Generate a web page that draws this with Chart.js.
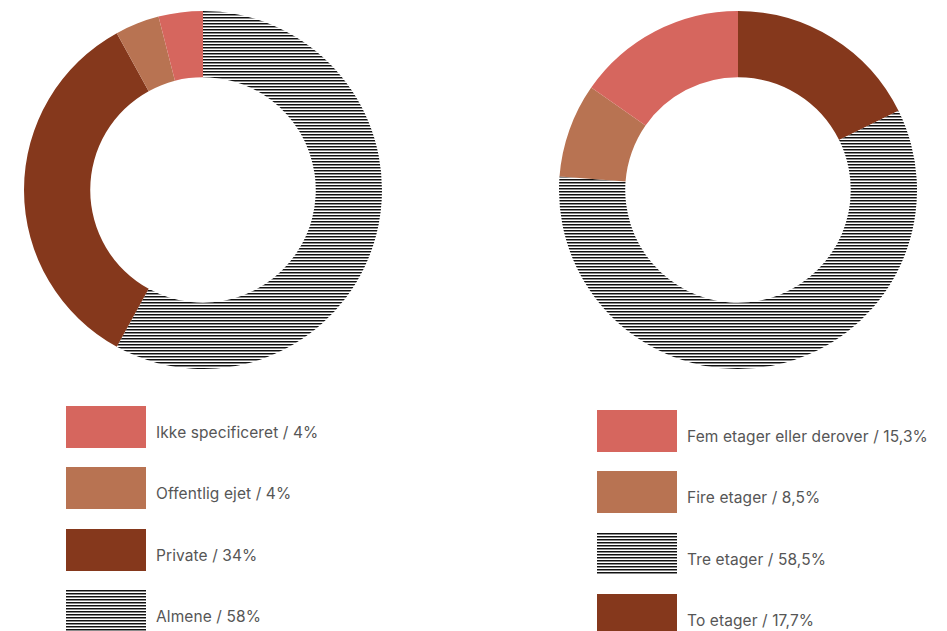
<!DOCTYPE html>
<html>
<head>
<meta charset="utf-8">
<script src="https://cdn.jsdelivr.net/npm/chart.js@4/dist/chart.umd.min.js"></script>
<style>
  html, body { margin: 0; padding: 0; background: #fff; }
  body { width: 947px; height: 631px; position: relative; overflow: hidden; font-family: Inter, "Liberation Sans", sans-serif; }
  .cv { position: absolute; top: 11px; width: 358px; height: 358px; }
  .legend { position: absolute; }
  .item { position: absolute; left: 0; height: 42px; width: 400px; }
  .sw { position: absolute; left: 0; top: 0; width: 80px; height: 42px; }
  .tx { position: absolute; left: 90px; top: 17px; font-size: 15.5px; color: #565656; white-space: nowrap; letter-spacing: 0.1px; }
</style>
</head>
<body>
<canvas id="c1" class="cv" width="358" height="358" style="left:24px"></canvas>
<canvas id="c2" class="cv" width="358" height="358" style="left:559px"></canvas>
<div id="l1" class="legend" style="left:66px; top:406px"></div>
<div id="l2" class="legend" style="left:597px; top:410px"></div>
<script>
// ---- Data ----
const ownerLabels = ["Almene", "Private", "Offentlig ejet", "Ikke specificeret"];
const ownerValues = [58, 34, 4, 4];
const floorLabels = ["To etager", "Tre etager", "Fire etager", "Fem etager eller derover"];
const floorValues = [17.7, 58.5, 8.5, 15.3];

// ---- Styles ----
const SALMON = "#d6665e", TAN = "#b87352", DARK = "#85381c";
function hatch() {
  const p = document.createElement("canvas");
  p.width = 3; p.height = 3;
  const g = p.getContext("2d");
  g.fillStyle = "#ffffff"; g.fillRect(0, 0, 3, 3);
  g.fillStyle = "#111111"; g.fillRect(0, 0, 3, 1);
  g.fillStyle = "#8a8a8a"; g.fillRect(0, 1, 3, 1);
  return g.createPattern(p, "repeat");
}
const HATCH_CSS = "repeating-linear-gradient(to bottom, #111 0px, #111 1px, #8a8a8a 1px, #8a8a8a 2px, #fff 2px, #fff 3px)";

const ownerColors = ["hatch", DARK, TAN, SALMON];
const floorColors = [DARK, "hatch", TAN, SALMON];

function fmt(v) { return String(v).replace(".", ","); }

function makeChart(id, labels, values, colors) {
  const pat = hatch();
  new Chart(document.getElementById(id), {
    type: "doughnut",
    data: {
      labels: labels,
      datasets: [{
        data: values,
        backgroundColor: colors.map(c => c === "hatch" ? pat : c),
        borderWidth: 0,
        hoverOffset: 0,
        offset: 0
      }]
    },
    options: {
      responsive: false,
      animation: false,
      cutout: "63%",
      rotation: 0,
      layout: { padding: 0 },
      plugins: { legend: { display: false }, tooltip: { enabled: false } },
      events: []
    }
  });
}

function makeLegend(id, labels, values, colors, step) {
  const el = document.getElementById(id);
  const n = labels.length;
  for (let k = 0; k < n; k++) {
    const i = n - 1 - k;
    const item = document.createElement("div");
    item.className = "item";
    item.style.top = (k * step) + "px";
    const sw = document.createElement("div");
    sw.className = "sw";
    sw.style.background = colors[i] === "hatch" ? HATCH_CSS : colors[i];
    const tx = document.createElement("div");
    tx.className = "tx";
    tx.textContent = labels[i] + " / " + fmt(values[i]) + "%";
    item.appendChild(sw); item.appendChild(tx);
    el.appendChild(item);
  }
}

makeChart("c1", ownerLabels, ownerValues, ownerColors);
makeChart("c2", floorLabels, floorValues, floorColors);
makeLegend("l1", ownerLabels, ownerValues, ownerColors, 61.3);
makeLegend("l2", floorLabels, floorValues, floorColors, 61.3);
</script>
</body>
</html>
